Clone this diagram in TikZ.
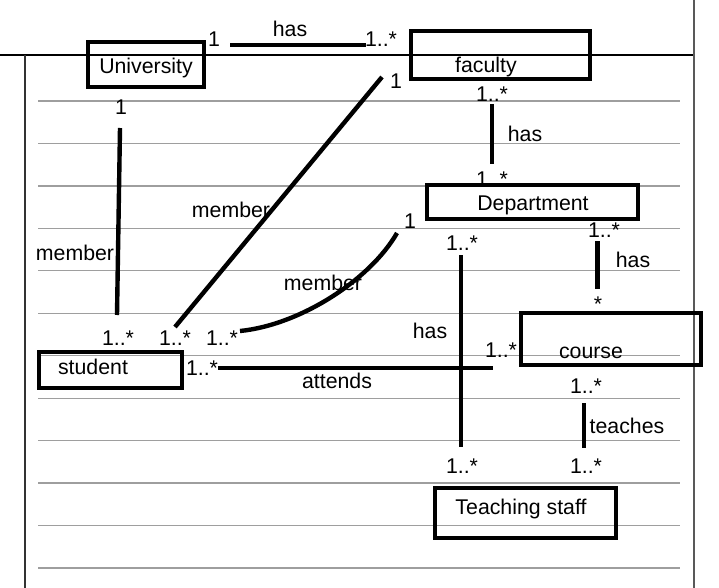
\documentclass[tikz,border=0pt]{standalone}
\usepackage{fontspec}
\setmainfont{Liberation Sans}
\begin{document}
\begin{tikzpicture}[x=1pt,y=-1pt,
  box/.style={draw,line width=3.8pt,rectangle,inner sep=0pt},
  conn/.style={line width=4.4pt},
  txt/.style={font=\fontsize{21.3}{25}\selectfont,anchor=base,inner sep=0pt},
  rulel/.style={draw=black!38,line width=1.2pt},
  frame/.style={line width=1.2pt}]
\useasboundingbox (0,0) rectangle (719,588);
% ruled paper
\foreach \k in {0,...,11}{
  \draw[rulel] (38,{101+42.45*\k}) -- (680,{101+42.45*\k});
}
\draw[frame,black] (0,55) -- (694,55);
\draw[frame,black!80] (25,55) -- (25,588);
\draw[frame,black!65] (694,0) -- (694,588);
% boxes
\node[box,minimum width=116pt,minimum height=45pt] (univ) at (146,64.5) {};
\node[box,minimum width=179pt,minimum height=48pt] (fac) at (500.5,55) {};
\node[box,minimum width=211pt,minimum height=34pt] (dept) at (532.5,202) {};
\node[box,minimum width=180pt,minimum height=52pt] (course) at (611,339) {};
\node[box,minimum width=143pt,minimum height=36pt] (stud) at (110.5,370) {};
\node[box,minimum width=181pt,minimum height=50pt] (staff) at (525.5,513) {};
% box texts
\node[txt] (tuniv) at (146,73.5) {University};
\node[txt] (tfac) at (486,73) {faculty};
\node[txt] (tdept) at (533,210.5) {Department};
\node[txt] (tcourse) at (591,358) {course};
\node[txt] (tstud) at (93,374) {student};
\node[txt] (tstaff) at (521,514) {Teaching staff};
% connector end points
\coordinate (h1a) at (230,45);   \coordinate (h1b) at (366,45);
\coordinate (us1) at (120,128);  \coordinate (us2) at (117,315);
\coordinate (fs1) at (382,77);   \coordinate (fs2) at (175,327);
\coordinate (ds1) at (397,233);  \coordinate (ds2) at (240,331);
\coordinate (fd1) at (492,104);  \coordinate (fd2) at (492,164);
\coordinate (dc1) at (597.5,241); \coordinate (dc2) at (597.5,289);
\coordinate (dt1) at (461,255);  \coordinate (dt2) at (461,447);
\coordinate (at1) at (218,368);  \coordinate (at2) at (493,368);
\coordinate (te1) at (584,403);  \coordinate (te2) at (584,448);
% connectors
\draw[conn] (h1a) -- (h1b);
\draw[conn] (us1) -- (us2);
\draw[conn] (fs1) -- (fs2);
\draw[conn] (ds1) .. controls (370,280) and (300,325) .. (ds2);
\draw[conn] (fd1) -- (fd2);
\draw[conn] (dc1) -- (dc2);
\draw[conn] (dt1) -- (dt2);
\draw[conn] (at1) -- (at2);
\draw[conn] (te1) -- (te2);
% labels
\node[txt] (l1) at (214,47) {1};
\node[txt] (l2) at (290,37) {has};
\node[txt] (l3) at (381,47) {1..*};
\node[txt] (l4) at (396,89) {1};
\node[txt] (l5) at (492,102) {1..*};
\node[txt] (l6) at (525,142) {has};
\node[txt] (l7) at (121,115) {1};
\node[txt] (l8) at (231,217) {member};
\node[txt] (l9) at (75,260) {member};
\node[txt] (l10) at (492,186) {1..*};
\node[txt] (l11) at (410,228) {1};
\node[txt] (l12) at (462,250) {1..*};
\node[txt] (l13) at (604,237) {1..*};
\node[txt] (l14) at (633,267) {has};
\node[txt] (l15) at (598,311) {*};
\node[txt] (l16) at (323,290) {member};
\node[txt] (l17) at (118,345) {1..*};
\node[txt] (l18) at (175,345) {1..*};
\node[txt] (l19) at (222,345) {1..*};
\node[txt] (l20) at (430,338) {has};
\node[txt] (l21) at (501,357) {1..*};
\node[txt] (l22) at (202,375) {1..*};
\node[txt] (l23) at (337,388) {attends};
\node[txt] (l24) at (586,393) {1..*};
\node[txt] (l25) at (627,433) {teaches};
\node[txt] (l26) at (462,473) {1..*};
\node[txt] (l27) at (586,473) {1..*};
\end{tikzpicture}
\end{document}
